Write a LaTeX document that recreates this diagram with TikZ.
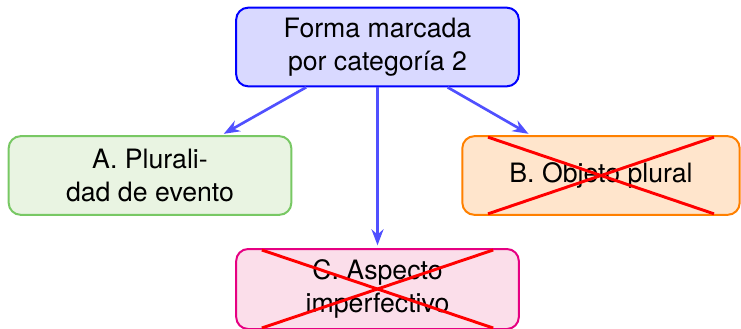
\documentclass[tikz,border=0pt]{standalone}
\usepackage{fontspec}
\setmainfont{TeX Gyre Heros}
\usetikzlibrary{arrows.meta}
\definecolor{linkblue}{RGB}{80,80,255}
\definecolor{catgreen}{RGB}{120,200,100}
\definecolor{catgreenfill}{RGB}{233,244,226}
\definecolor{catpink}{RGB}{230,0,130}
\definecolor{catpinkfill}{RGB}{251,222,234}
\begin{document}
\begin{tikzpicture}[
		x=0.75pt, y=-0.75pt,
		box/.style={draw, line width=1.5pt, rounded corners=9pt, align=center,
			minimum width=212pt, minimum height=59pt,
			font=\fontsize{20}{24.75}\selectfont},
		link/.style={draw=linkblue, line width=2pt, -{Stealth[length=12pt,width=9pt]}, shorten >=2pt},
		strike/.style={red, line width=2.2pt},
	]
	\useasboundingbox (0,0) rectangle (741,328);
	\node[box, draw=blue, fill=blue!15] (top) at (377.5,47) {Forma marcada\\por categoría 2};
	\node[box, draw=catgreen, fill=catgreenfill] (evt) at (150,175.5) {A. Plurali-\\dad de evento};
	\node[box, draw=orange, fill=orange!20, minimum width=208pt] (obj) at (601,175.5) {B. Objeto plural};
	\node[box, draw=catpink, fill=catpinkfill, minimum height=60pt] (asp) at (377.5,289) {C. Aspecto\\imperfectivo};
	\draw[link] (top) -- (evt);
	\draw[link] (top) -- (obj);
	\draw[link] (top) -- (asp);
	% crossed out
	\draw[strike] ([xshift=20pt,yshift=-1.5pt]obj.north west) -- ([xshift=-20pt,yshift=1.5pt]obj.south east);
	\draw[strike] ([xshift=20pt,yshift=1.5pt]obj.south west) -- ([xshift=-20pt,yshift=-1.5pt]obj.north east);
	\draw[strike] ([xshift=20pt,yshift=-1.5pt]asp.north west) -- ([xshift=-20pt,yshift=1.5pt]asp.south east);
	\draw[strike] ([xshift=20pt,yshift=1.5pt]asp.south west) -- ([xshift=-20pt,yshift=-1.5pt]asp.north east);
\end{tikzpicture}
\end{document}
